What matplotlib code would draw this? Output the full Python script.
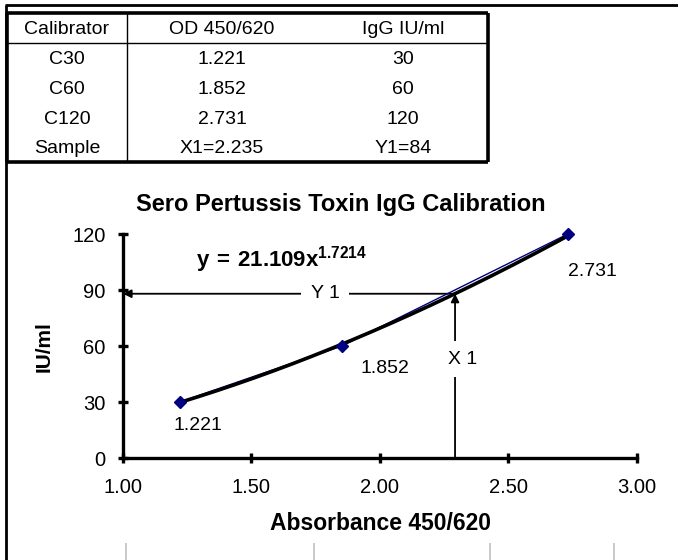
import numpy as np
import matplotlib.pyplot as plt
from matplotlib.lines import Line2D

plt.rcParams['font.family'] = ['Liberation Sans', 'DejaVu Sans']
plt.rcParams['mathtext.fontset'] = 'custom'
plt.rcParams['mathtext.bf'] = 'Liberation Sans:bold'
plt.rcParams['mathtext.rm'] = 'Liberation Sans'

# calibration table
table_header = ['Calibrator', 'OD 450/620', 'IgG IU/ml']
calibrators = ['C30', 'C60', 'C120', 'Sample']
od_text = ['1.221', '1.852', '2.731', 'X1=2.235']
igg_text = ['30', '60', '120', 'Y1=84']

# chart data
od = [1.221, 1.852, 2.731]
iu = [30, 60, 120]
coef_a = 21.109
coef_b = 1.7214
x1 = 2.292   # where the reading arrows meet the curve
y1 = 88

W, H = 678, 560
fig = plt.figure(figsize=(W / 100, H / 100), dpi=100)


def fx(px):
    return px / W


def fy(py):
    return 1 - py / H


def hline(x0, x1_, y, lw, color='black'):
    fig.add_artist(Line2D([fx(x0), fx(x1_)], [fy(y), fy(y)], lw=lw, color=color,
                          solid_capstyle='butt'))


def vline(x, y0, y1_, lw, color='black'):
    fig.add_artist(Line2D([fx(x), fx(x)], [fy(y0), fy(y1_)], lw=lw, color=color,
                          solid_capstyle='butt'))


# sheet frame
hline(5, 678, 5, 2)
vline(6, 5, 560, 2)
for gx in [126, 314, 490, 614]:
    vline(gx, 543, 560, 1.2, '#c0c0c0')

# table
tl, tr, tt, tb = 7, 488, 13, 162
row_h = 30
hline(tl, tr, tt, 2.6)
hline(tl, tr, tb, 2.6)
vline(tl, tt, tb, 2.6)
vline(tr, tt, tb, 2.6)
hline(tl, tr, tt + row_h - 0.5, 1)
vline(127, tt, tb, 1)

col_x = [67, 222, 403]
rows = [table_header] + [list(r) for r in zip(calibrators, od_text, igg_text)]
for i, row in enumerate(rows):
    yc = tt + row_h * i + row_h / 2 + 1
    for cx, txt in zip(col_x, row):
        fig.text(fx(cx), fy(yc), txt, ha='center', va='center', fontsize=14)

# chart
ax = fig.add_axes([fx(123), fy(458), fx(637) - fx(123), fy(234) - fy(458)])
ax.set_xlim(1, 3)
ax.set_ylim(0, 120)
ax.set_xticks([1.0, 1.5, 2.0, 2.5, 3.0])
ax.set_xticklabels(['%.2f' % t for t in ax.get_xticks()])
ax.set_yticks([0, 30, 60, 90, 120])
for s in ['top', 'right']:
    ax.spines[s].set_visible(False)
for s in ['left', 'bottom']:
    ax.spines[s].set_linewidth(2.4)
ax.tick_params(direction='inout', length=7, width=2.4, labelsize=14.5)
ax.tick_params(axis='x', pad=11)
ax.tick_params(axis='y', pad=9)

xs = np.linspace(od[0], od[-1], 200)
ax.plot(od, iu, color='#000080', lw=1, zorder=3)
ax.plot(xs, coef_a * xs ** coef_b, color='black', lw=2.6, zorder=4)
ax.plot(od, iu, linestyle='none', marker='D', markersize=6.5, color='#000080',
        zorder=5, clip_on=False)

ax.annotate('1.221', (od[0], iu[0]), xytext=(13, -17), textcoords='offset points',
            ha='center', va='center', fontsize=14)
ax.annotate('1.852', (od[1], iu[1]), xytext=(31, -16), textcoords='offset points',
            ha='center', va='center', fontsize=14)
ax.annotate('2.731', (od[2], iu[2]), xytext=(18, -27), textcoords='offset points',
            ha='center', va='center', fontsize=14)

ax.text(1.285, 106.5, r'$\mathbf{y\,=\,21.109x^{1.7214}}$', ha='left', va='center',
        fontsize=16)

# reading arrows
ax.annotate('', xy=(1.0, y1), xytext=(x1, y1),
            arrowprops=dict(arrowstyle='-|>', color='black', lw=1.3,
                            shrinkA=0, shrinkB=0, mutation_scale=12), zorder=2)
ax.annotate('', xy=(x1, y1), xytext=(x1, 0),
            arrowprops=dict(arrowstyle='-|>', color='black', lw=1.3,
                            shrinkA=0, shrinkB=0, mutation_scale=12), zorder=2)
ax.text(1.786, y1, 'Y 1', ha='center', va='center', fontsize=14,
        bbox=dict(facecolor='white', edgecolor='none', pad=7), zorder=6)
ax.text(2.32, 53, 'X 1', ha='center', va='center', fontsize=14,
        bbox=dict(facecolor='white', edgecolor='none', pad=7), zorder=6)

fig.text(fx(341), fy(204), 'Sero Pertussis Toxin IgG Calibration', ha='center',
         va='center', fontsize=17, fontweight='bold')
fig.text(fx(44), fy(347), 'IU/ml', ha='center', va='center', rotation=90,
         fontsize=15, fontweight='bold')
fig.text(fx(381), fy(523), 'Absorbance 450/620', ha='center', va='center',
         fontsize=16.5, fontweight='bold')

fig.savefig('out.png', dpi=100)
